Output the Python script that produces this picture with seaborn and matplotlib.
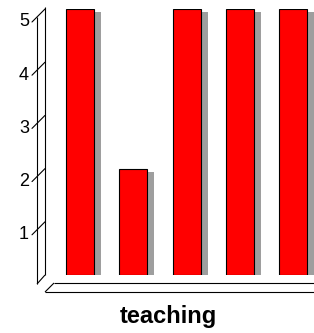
import matplotlib
matplotlib.use("Agg")
import matplotlib.pyplot as plt
import matplotlib.patheffects as pe
import seaborn as sns

# data
categories = ["A", "B", "C", "D", "E"]
values = [5, 2, 5, 5, 5]
yticks = [1, 2, 3, 4, 5]
xlabel = "teaching"

sns.set_theme(style="white")
plt.rcParams["font.family"] = ["Liberation Sans", "DejaVu Sans"]

W, H = 314, 333
fig = plt.figure(figsize=(W / 100, H / 100), dpi=100)

# axes placed so that bar 0 sits at x=80px and value 0 at y=275px
x0, dx = 80.0, 53.33
y0, dy = 275.0, 53.2
left = x0 - 0.5 * dx
ax = fig.add_axes([left / W, (H - y0) / H, 5 * dx / W, 5 * dy / H])

sns.barplot(x=categories, y=values, color="red", saturation=1, width=0.53,
            edgecolor="black", linewidth=0.8, ax=ax)
for p in ax.patches:
    p.set_path_effects([pe.SimplePatchShadow(offset=(5.0, -2.2), shadow_rgbFace="#9e9e9e", alpha=1),
                        pe.Normal()])

ax.set_xlim(-0.5, 4.5)
ax.set_ylim(0, 5)
ax.set_axis_off()


def dxp(xp):
    return (xp - x0) / dx


def dyp(yp):
    return (y0 - yp) / dy


def line(p1, p2):
    ax.plot([dxp(p1[0]), dxp(p2[0])], [dyp(p1[1]), dyp(p2[1])],
            color="black", lw=0.8, clip_on=False, solid_capstyle="butt")


# side wall
line((45, 7), (45, 275))
line((37, 17), (37, 284))
line((37, 284), (45, 275))

# slanted ticks and labels
for v in yticks:
    ax.plot([dxp(32), dxp(45)], [v - 13 / dy, v], color="black", lw=0.8,
            clip_on=False)
    ax.text(dxp(29), v - 13 / dy, str(v), ha="right", va="center",
            fontsize=13, color="black")

# floor
line((54, 283), (316, 283))
line((45, 292), (316, 292))
line((45, 292), (54, 283))

ax.text(dxp(168), dyp(323), xlabel, ha="center", va="baseline",
        fontsize=17, fontweight="bold", color="black")

fig.savefig("out.png", dpi=100)
